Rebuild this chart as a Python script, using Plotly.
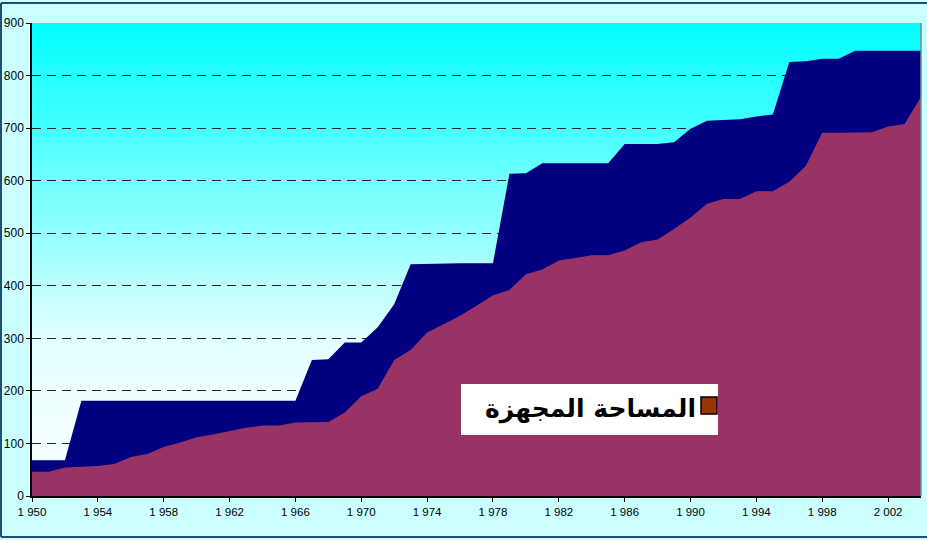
import zlib, struct, base64
import plotly.graph_objects as go

# ---------------- data ----------------
years = list(range(1950, 2005))

# upper (navy) series
total_area = [68, 68, 68, 181, 181, 181, 181, 181, 181, 181,
              181, 181, 181, 181, 181, 181, 181, 259, 260, 292,
              292, 321, 365, 441, 442, 442, 443, 443, 443, 613,
              614, 633, 633, 633, 633, 633, 670, 670, 670, 673,
              699, 714, 715, 717, 722, 726, 826, 827, 832, 832,
              847, 847, 847, 847, 847]

# lower (maroon) series – equipped area
equipped_area = [46, 46, 54, 56, 57, 61, 74, 80, 93, 102,
                 112, 117, 123, 130, 134, 134, 140, 140, 141, 159,
                 190, 204, 259, 278, 311, 327, 343, 362, 382, 392,
                 422, 431, 448, 453, 458, 458, 467, 483, 488, 508,
                 530, 556, 565, 565, 580, 580, 598, 628, 691, 691,
                 691, 692, 703, 708, 759]

tick_years = years[::4]
tick_labels = ["1 950", "1 954", "1 958", "1 962", "1 966", "1 970", "1 974",
               "1 978", "1 982", "1 986", "1 990", "1 994", "1 998", "2 002"]

legend_label = "المساحة المجهزة"

# ---------------- background gradient (aqua -> near white) ----------------
grad_stops = [(0.0, (246, 255, 255)), (0.222, (238, 255, 255)), (0.333, (225, 255, 255)),
              (0.444, (190, 255, 255)), (0.556, (146, 255, 255)), (0.667, (115, 255, 255)),
              (0.778, (66, 255, 255)), (0.889, (40, 255, 255)), (1.0, (0, 255, 255))]


def gradient_png(stops, h=300, w=4):
    rows = b""
    for i in range(h):
        t = 1 - i / (h - 1)
        for k in range(len(stops) - 1):
            t0, c0 = stops[k]
            t1, c1 = stops[k + 1]
            if t0 <= t <= t1:
                f = (t - t0) / (t1 - t0) if t1 > t0 else 0
                c = tuple(int(round(c0[j] + (c1[j] - c0[j]) * f)) for j in range(3))
                break
        rows += b"\x00" + bytes(c) * w

    def chunk(tag, data):
        return (struct.pack(">I", len(data)) + tag + data
                + struct.pack(">I", zlib.crc32(tag + data) & 0xFFFFFFFF))

    png = (b"\x89PNG\r\n\x1a\n"
           + chunk(b"IHDR", struct.pack(">IIBBBBB", w, h, 8, 2, 0, 0, 0))
           + chunk(b"IDAT", zlib.compress(rows))
           + chunk(b"IEND", b""))
    return "data:image/png;base64," + base64.b64encode(png).decode()


fig = go.Figure()
fig.add_trace(go.Scatter(x=years, y=total_area, mode="lines", fill="tozeroy",
                         fillcolor="#000080", line=dict(width=0, color="#000080"),
                         showlegend=False, hoverinfo="x+y"))
fig.add_trace(go.Scatter(x=years, y=equipped_area, mode="lines", fill="tozeroy",
                         fillcolor="#993366", line=dict(width=0, color="#993366"),
                         name=legend_label, showlegend=False, hoverinfo="x+y"))

W, H = 927, 540
ml, mr, mt, mb = 32, 6, 23, 44
pw, ph = W - ml - mr, H - mt - mb


def px(xp):
    return (xp - ml) / pw


def py(yp):
    return (H - mb - yp) / ph


fig.add_layout_image(dict(source=gradient_png(grad_stops), xref="x", yref="y",
                          x=years[0], y=900, sizex=years[-1] - years[0], sizey=900,
                          xanchor="left", yanchor="top", sizing="stretch", layer="below"))

shapes = [
    # outer chart border (top, left, bottom)
    dict(type="line", xref="paper", yref="paper", x0=px(1), x1=px(W), y0=py(3), y1=py(3),
         line=dict(color="#1d4f78", width=2)),
    dict(type="line", xref="paper", yref="paper", x0=px(1), x1=px(1), y0=py(3), y1=py(537),
         line=dict(color="#1d4f78", width=2)),
    dict(type="line", xref="paper", yref="paper", x0=px(1), x1=px(W), y0=py(537), y1=py(537),
         line=dict(color="#1d4f78", width=2)),
    # plot-area right border
    dict(type="line", xref="paper", yref="paper", x0=1, x1=1, y0=0, y1=1,
         line=dict(color="#6f8f8f", width=1.5), layer="above"),
    # legend box
    dict(type="rect", xref="paper", yref="paper", x0=px(461), x1=px(718), y0=py(435), y1=py(384),
         fillcolor="white", line=dict(width=0), layer="above"),
    dict(type="rect", xref="paper", yref="paper", x0=px(701), x1=px(717), y0=py(414), y1=py(397),
         fillcolor="#993300", line=dict(color="black", width=1.5), layer="above"),
]

fig.update_layout(
    width=W, height=H,
    margin=dict(l=ml, r=mr, t=mt, b=mb, pad=0, autoexpand=False),
    paper_bgcolor="#CCFFFF",
    plot_bgcolor="rgba(0,0,0,0)",
    font=dict(family="Arial, Liberation Sans, sans-serif", color="black"),
    showlegend=False,
    shapes=shapes,
    annotations=[dict(xref="paper", yref="paper", x=px(698), y=py(409),
                      xanchor="right", yanchor="middle", showarrow=False,
                      text="<b>" + legend_label + "</b>",
                      font=dict(family="DejaVu Sans", size=25, color="black"))],
    xaxis=dict(range=[years[0], years[-1]], tickmode="array", tickvals=tick_years,
               ticktext=tick_labels, ticks="outside", ticklen=4, tickcolor="black",
               showline=True, linecolor="black", linewidth=1.5, showgrid=False,
               zeroline=False, automargin=False, tickfont=dict(size=11.5, color="black")),
    yaxis=dict(range=[0, 900], tickmode="linear", tick0=0, dtick=100,
               ticks="outside", ticklen=4, tickcolor="black",
               showline=True, linecolor="black", linewidth=1.5, automargin=False,
               showgrid=True, gridcolor="#222222", gridwidth=1, griddash="9px,6px",
               zeroline=False, tickfont=dict(size=12, color="black")),
)

fig.write_html("out.html", config={"displayModeBar": False},
               post_script="document.body.style.margin='0px';document.body.style.overflow='hidden';")
